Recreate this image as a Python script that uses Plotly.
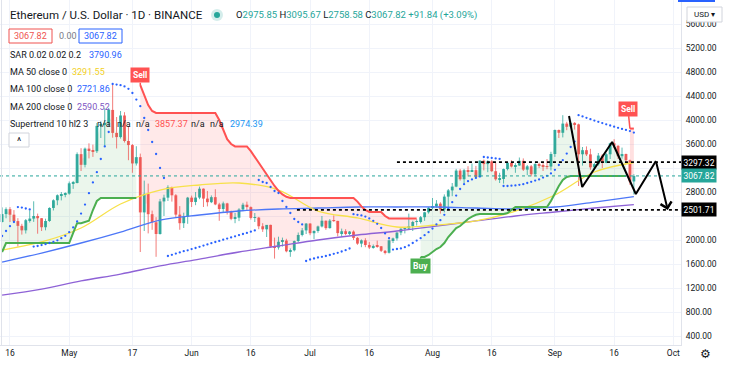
import pandas as pd
import plotly.graph_objects as go

# ---------------- data ----------------
dates = pd.date_range("2021-04-14", "2021-09-21", freq="D")

opens = [2299, 2432, 2514, 2422, 2315, 2236, 2161, 2330, 2357, 2400, 2363, 2213, 2317, 2534, 2662, 2746, 2757,
         2773, 2945, 2950, 3431, 3253, 3523, 3490, 3480, 3902, 3928, 3952, 4168, 3785, 3715, 4075, 3650, 3582, 3276,
         3381, 2460, 2770, 2430, 2295, 2100, 2643, 2706, 2880, 2745, 2423, 2280, 2388,
         2706, 2634, 2707, 2855, 2690, 2630, 2714, 2593, 2517, 2610, 2472, 2353, 2372, 2508, 2588, 2548, 2368, 2373,
         2229, 2178, 2252, 1889, 1875, 1971, 1990, 1812, 1829, 1982, 2084, 2160,
         2274, 2113, 2150, 2226, 2321, 2198, 2323, 2318, 2115, 2146, 2115, 2140, 2035, 1940, 1994, 1916, 1875, 1896,
         1895, 1820, 1787, 1995, 2027, 2124, 2187, 2190, 2230, 2300, 2300, 2380, 2462,
         2536, 2558, 2606, 2510, 2723, 2827, 2890, 3157, 3013, 3163, 3142, 3164, 3048, 3322, 3265, 3310, 3147, 3012,
         3017, 3182, 3287, 3225, 3242, 3320, 3173, 3228, 3096, 3266, 3243, 3225, 3224,
         3433, 3834, 3787, 3940, 3887, 3952, 3927, 3429, 3497, 3427, 3211, 3264, 3407, 3285, 3429, 3612, 3570, 3397,
         3433, 3329, 2975.85]
highs = [2544, 2544, 2548, 2498, 2364, 2270, 2350, 2495, 2645, 2440, 2365, 2355, 2545, 2678, 2760, 2800, 2795,
         2975, 2985, 3460, 3530, 3541, 3611, 3590, 3950, 3980, 4197, 4200, 4600, 4050, 4150, 4130, 3900, 3600, 3563,
         3440, 2990, 2940, 2490, 2380, 2685, 2755, 2912, 2890, 2765, 2565, 2455, 2718,
         2740, 2800, 2890, 2860, 2817, 2743, 2846, 2620, 2640, 2620, 2490, 2450, 2530, 2620, 2640, 2560, 2450, 2385,
         2280, 2250, 2255, 2040, 2055, 2040, 2020, 1860, 1990, 2125, 2200, 2282,
         2280, 2160, 2240, 2400, 2325, 2350, 2410, 2320, 2190, 2180, 2150, 2160, 2050, 2010, 2030, 1965, 1925, 1990,
         1900, 1832, 2010, 2040, 2130, 2195, 2200, 2440, 2320, 2345, 2400, 2470, 2550,
         2700, 2665, 2630, 2760, 2850, 2950, 3185, 3185, 3185, 3230, 3275, 3235, 3330, 3340, 3330, 3330, 3290, 3120,
         3190, 3300, 3330, 3280, 3375, 3360, 3250, 3250, 3280, 3290, 3280, 3350, 3470,
         3840, 3840, 4080, 3970, 3985, 3965, 3940, 3550, 3560, 3520, 3290, 3450, 3430, 3450, 3620, 3680, 3580, 3540,
         3440, 3340, 3095.67]
lows = [2295, 2362, 2300, 2300, 1890, 2090, 2108, 2290, 2302, 2105, 2150, 2161, 2302, 2492, 2580, 2660, 2712,
        2755, 2852, 2944, 3150, 3210, 3360, 3385, 3450, 3700, 3550, 3900, 3705, 3526, 3690, 3625, 3330, 3120, 3241,
        1800, 2150, 2110, 2170, 1720, 2090, 2400, 2650, 2640, 2380, 2171, 2200, 2270,
        2550, 2580, 2680, 2550, 2560, 2615, 2580, 2320, 2450, 2425, 2330, 2280, 2315, 2480, 2500, 2340, 2300, 2180,
        2135, 2050, 1870, 1690, 1840, 1890, 1795, 1720, 1810, 1960, 2060, 2100,
        2080, 2015, 2120, 2210, 2170, 2190, 2300, 2060, 2050, 2080, 2080, 2000, 1920, 1880, 1880, 1850, 1855, 1870,
        1800, 1760, 1775, 1950, 1990, 2080, 2110, 2180, 2150, 2240, 2275, 2320, 2440,
        2510, 2540, 2440, 2460, 2520, 2730, 2880, 2990, 2950, 3060, 3140, 3040, 3065, 3160, 3130, 3135, 2990, 2950,
        2940, 3160, 3210, 3120, 3235, 3150, 3080, 3060, 3060, 3200, 3150, 3180, 3160,
        3385, 3700, 3710, 3830, 3860, 3840, 2900, 3240, 3400, 3170, 3180, 3240, 3200, 3280, 3350, 3530, 3350, 3355,
        3285, 2920, 2758.58]
closes = [2432, 2514, 2422, 2315, 2236, 2161, 2330, 2357, 2400, 2363, 2213, 2317, 2534, 2662, 2746, 2757, 2773,
          2945, 2950, 3431, 3253, 3523, 3490, 3480, 3902, 3928, 3952, 4168, 3785, 3715, 4075, 3650, 3582, 3276, 3381,
          2460, 2770, 2430, 2295, 2100, 2643, 2706, 2880, 2745, 2423, 2280, 2388, 2706,
          2634, 2707, 2855, 2690, 2630, 2714, 2593, 2517, 2610, 2472, 2353, 2372, 2508, 2588, 2548, 2368, 2373, 2229,
          2178, 2252, 1889, 1875, 1971, 1990, 1812, 1829, 1982, 2084, 2160, 2274,
          2113, 2150, 2226, 2321, 2198, 2323, 2318, 2115, 2146, 2115, 2140, 2035, 1940, 1994, 1916, 1875, 1896, 1895,
          1820, 1787, 1995, 2027, 2124, 2187, 2190, 2230, 2300, 2300, 2380, 2462, 2536,
          2558, 2606, 2510, 2723, 2827, 2890, 3157, 3013, 3163, 3142, 3164, 3048, 3322, 3265, 3310, 3147, 3012, 3017,
          3182, 3287, 3225, 3242, 3320, 3173, 3228, 3096, 3266, 3243, 3225, 3224, 3433,
          3834, 3787, 3940, 3887, 3952, 3927, 3429, 3497, 3427, 3211, 3264, 3407, 3285, 3429, 3612, 3570, 3397, 3433,
          3329, 2975.85, 3067.82]

# Parabolic SAR (0.02, 0.02, 0.2) dots, one per day
sar = [2067, 2150, 2230, 2300,
       2548, 2540, 2525, 2510,
       1890, 1900, 1915, 1930, 1950, 1970, 1995, 2030, 2070, 2130, 2210, 2310, 2440, 2590, 2780, 2960, 3130, 3350,
       3560, 3800,
       4600, 4590, 4580, 4560, 4520, 4450, 4340, 4230, 4033, 3833, 3633, 3433, 3200, 3033,
       1733, 1753, 1773, 1793, 1813, 1828, 1848, 1867, 1887, 1907, 1927, 1947, 1967, 1985, 2005, 2023, 2043, 2062,
       2082, 2100, 2118, 2138, 2160,
       3000, 2967, 2950, 2883, 2817, 2783, 2650, 2550, 2450, 2350, 2300, 2260,
       1650, 1675, 1692, 1708, 1720, 1733, 1750, 1770, 1787, 1808, 1830, 1858,
       2430, 2420, 2410, 2390, 2360, 2320, 2270, 2200, 2110, 2030,
       1840, 1850, 1860, 1880, 1910, 1950, 1990, 2030, 2080, 2130, 2190, 2260, 2330, 2420, 2520, 2630, 2740, 2850,
       2930, 2980, 3010, 3035, 3060,
       3383, 3375, 3368, 3360, 3352,
       2900, 2900, 2905, 2910, 2920, 2930, 2950, 2970, 2990, 3010, 3040, 3070, 3110, 3170, 3250, 3330, 3440, 3550,
       3640,
       4080, 4059, 4036, 4013, 3991, 3969, 3948, 3928, 3908, 3889, 3870, 3852, 3834, 3816, 3790.96]

# Supertrend (10, hl2, 3) segments
st_up1_start, st_down1_start, st_up2_start, st_down2_start = 0, 35, 106, 159
st_up1 = [1800] + [1950] * 17 + [2120, 2280, 2280, 2300, 2320, 2500, 2650, 2700] + [2700] * 9
st_down1 = ([4580, 4400, 4250, 4150] + [4117] * 16 + [4000, 3850, 3680, 3600] + [3560] * 4 +
            [3480, 3380, 3280, 3200, 3100, 3000, 2900, 2820, 2760, 2720] + [2700] * 17 +
            [2640, 2560, 2500] + [2467] * 4 + [2400] + [2360] * 8)
st_up2 = ([1717, 1717, 1750, 1800, 1850, 1883, 1950, 2050, 2133, 2200, 2233, 2300, 2350, 2390, 2420] +
          [2433] * 7 + [2450, 2500] + [2550] * 9 + [2650, 2780, 2900, 3000, 3050] + [3067] * 15)
st_down2 = [3857.37, 3857.37]

# Moving averages
ma_dates = ["2021-04-14", "2021-04-24", "2021-05-04", "2021-05-14", "2021-05-24", "2021-06-03", "2021-06-13",
            "2021-06-23", "2021-07-03", "2021-07-13", "2021-07-23", "2021-08-02", "2021-08-12", "2021-08-22",
            "2021-09-01", "2021-09-11", "2021-09-21"]
ma50 = [1833, 1967, 2200, 2600, 2833, 2917, 2950, 2833, 2483, 2367, 2217, 2250, 2317, 2483, 2750, 3133, 3291.55]
ma100 = [1633, 1783, 1950, 2133, 2333, 2417, 2483, 2517, 2533, 2550, 2550, 2550, 2533, 2517, 2550, 2633, 2721.86]
ma200 = [1083, 1183, 1317, 1433, 1567, 1683, 1800, 1900, 2000, 2083, 2150, 2233, 2317, 2400, 2467, 2533, 2590.52]

# drawn levels and pattern
level_hi, level_hi_from = 3297.32, "2021-07-23"
level_lo, level_lo_from = 2501.71, "2021-06-27 16:00"
last_price = 3067.82
pattern_dates = ["2021-09-04 14:00", "2021-09-07 22:00", "2021-09-15 12:00", "2021-09-21 12:00",
                 "2021-09-26 14:00", "2021-09-29 14:00"]
pattern_prices = [4067, 2883, 3633, 2767, 3317, 2500]

x_ticks = ["2021-04-16", "2021-05-01", "2021-05-17", "2021-06-01", "2021-06-16", "2021-07-01", "2021-07-16",
           "2021-08-01", "2021-08-16", "2021-09-01", "2021-09-16", "2021-10-01"]
x_ticktext = ["16", "May", "17", "Jun", "16", "Jul", "16", "Aug", "16", "Sep", "16", "Oct"]
y_ticks = list(range(400, 5601, 400))
y_hidden_ticks = [2400, 3200]  # covered by the price-axis labels in the original

# ---------------- style ----------------
UP, DOWN = "#26a69a", "#ef5350"
X_RANGE = ["2021-04-13 11:17", "2021-10-02 22:30"]
Y_RANGE = [250, 6000]
PW, PH = 681, 345
FONT = "Roboto"
TXT = "#131722"


def pxx(x):
    return x / PW


def pyy(y):
    return 1 - y / PH


fig = go.Figure()

# supertrend fills (body middle -> supertrend)
body_mid = [(o + c) / 2 for o, c in zip(opens, closes)]
segments = [(st_up1_start, st_up1, "#4caf50", "rgba(76,175,80,0.11)"),
            (st_down1_start, st_down1, "#ff5252", "rgba(255,82,82,0.13)"),
            (st_up2_start, st_up2, "#4caf50", "rgba(76,175,80,0.11)"),
            (st_down2_start, st_down2, "#ff5252", "rgba(255,82,82,0.18)")]
for start, vals, col, fcol in segments:
    seg_x = dates[start:start + len(vals)]
    fig.add_trace(go.Scatter(x=seg_x, y=body_mid[start:start + len(vals)], mode="lines",
                             line=dict(width=0, color="rgba(0,0,0,0)"), hoverinfo="skip"))
    fig.add_trace(go.Scatter(x=seg_x, y=vals, mode="lines", fill="tonexty", fillcolor=fcol,
                             line=dict(width=0, color="rgba(0,0,0,0)"), hoverinfo="skip"))

# candle bodies
body_col = [UP if c >= o else DOWN for o, c in zip(opens, closes)]
fig.add_trace(go.Bar(x=dates, y=[max(abs(c - o), 6) for o, c in zip(opens, closes)],
                     base=[min(o, c) for o, c in zip(opens, closes)],
                     width=0.72 * 86400000, marker=dict(color=body_col, line=dict(width=0)),
                     opacity=0.9, hoverinfo="skip"))

# wicks
for col in (UP, DOWN):
    wx, wy = [], []
    for d, o, h, l, c in zip(dates, opens, highs, lows, closes):
        if (c >= o) == (col == UP):
            wx += [d, d, None]
            wy += [l, h, None]
    fig.add_trace(go.Scatter(x=wx, y=wy, mode="lines", line=dict(color=col, width=1), opacity=0.75,
                             hoverinfo="skip"))

# moving averages
fig.add_trace(go.Scatter(x=ma_dates, y=ma200, mode="lines", line=dict(color="#8e62d6", width=1.3, shape="spline"),
                         hoverinfo="skip"))
fig.add_trace(go.Scatter(x=ma_dates, y=ma100, mode="lines", line=dict(color="#4d77f7", width=1.3, shape="spline"),
                         hoverinfo="skip"))
fig.add_trace(go.Scatter(x=ma_dates, y=ma50, mode="lines", line=dict(color="#f7e14a", width=1.3, shape="spline"),
                         hoverinfo="skip"))

# supertrend lines
for start, vals, col, fcol in segments:
    fig.add_trace(go.Scatter(x=dates[start:start + len(vals)], y=vals, mode="lines",
                             line=dict(color=col, width=2), hoverinfo="skip"))

# SAR dots
fig.add_trace(go.Scatter(x=dates, y=sar, mode="markers", marker=dict(color="#2962ff", size=2.3),
                         hoverinfo="skip"))

# level lines
fig.add_trace(go.Scatter(x=[X_RANGE[0], X_RANGE[1]], y=[last_price, last_price], mode="lines",
                         line=dict(color=UP, width=1, dash="dot"), hoverinfo="skip"))
fig.add_trace(go.Scatter(x=[level_hi_from, X_RANGE[1]], y=[level_hi, level_hi], mode="lines",
                         line=dict(color="#000000", width=1.6, dash="dot"), hoverinfo="skip"))
fig.add_trace(go.Scatter(x=[level_lo_from, X_RANGE[1]], y=[level_lo, level_lo], mode="lines",
                         line=dict(color="#000000", width=1.6, dash="dot"), hoverinfo="skip"))

# zigzag pattern
fig.add_trace(go.Scatter(x=pattern_dates[:5], y=pattern_prices[:5], mode="lines",
                         line=dict(color="#000000", width=2), hoverinfo="skip"))

ann = []
shapes = []


def text(x, y, s, color=TXT, size=9, anchor="left", family=FONT, **kw):
    ann.append(dict(x=pxx(x), y=pyy(y), xref="paper", yref="paper", text=s, showarrow=False,
                    xanchor=anchor, yanchor="middle", font=dict(family=family, size=size, color=color), **kw))


def rect(x0, y0, x1, y1, line="#e0e3eb", fill="white", width=1):
    shapes.append(dict(type="rect", xref="paper", yref="paper", x0=pxx(x0), x1=pxx(x1), y0=pyy(y1), y1=pyy(y0),
                       line=dict(color=line, width=width), fillcolor=fill, layer="above"))


# pattern arrow head
ann.append(dict(x=pattern_dates[5], y=pattern_prices[5], ax=pattern_dates[4], ay=pattern_prices[4],
                xref="x", yref="y", axref="x", ayref="y", text="", showarrow=True, arrowhead=4,
                arrowsize=1.1, arrowwidth=2, arrowcolor="#000000"))

# signals
for d, p, label, col, ax, ay in [("2021-05-19", st_down1[0], "Sell", "#ff5252", 0, -10),
                                 ("2021-09-20", st_down2[0], "Sell", "#ff5252", -2, -20),
                                 ("2021-07-29", st_up2[0], "Buy", "#4caf50", 0, 9)]:
    ann.append(dict(x=d, y=p, xref="x", yref="y", text="<b>%s</b>" % label, showarrow=True, arrowhead=0,
                    arrowwidth=1.5, arrowcolor=col, ax=ax, ay=ay, bgcolor=col, borderpad=2,
                    font=dict(family=FONT, size=8.5, color="white")))

# price axis labels
for p, bg in [(level_hi, "#000000"), (last_price, UP), (level_lo, "#000000")]:
    ann.append(dict(x=1.0, y=p, xref="paper", yref="y", text="%.2f" % p, showarrow=False, xanchor="left",
                    yanchor="middle", bgcolor=bg, borderpad=1.5, font=dict(family=FONT, size=8.5, color="white")))

# header / legend
text(8, 15, "Ethereum / U.S. Dollar · 1D · BINANCE", size=11.5)
shapes.append(dict(type="circle", xref="paper", yref="paper", x0=pxx(211), x1=pxx(223), y0=pyy(21), y1=pyy(9),
                   line=dict(width=0), fillcolor="rgba(38,166,154,0.2)"))
shapes.append(dict(type="circle", xref="paper", yref="paper", x0=pxx(214), x1=pxx(220), y0=pyy(18), y1=pyy(12),
                   line=dict(width=0), fillcolor=UP))
g = "<span style='color:%s'>%%s</span>" % UP
ohlc = ("O" + g % "2975.85" + " H" + g % "3095.67" + " L" + g % "2758.58" + " C" + g % "3067.82" + " " +
        g % "+91.84 (+3.09%)")
text(234, 15, ohlc, size=9.5)

rect(9, 29, 52, 43, line=DOWN)
text(30.5, 36, "3067.82", color=DOWN, size=9, anchor="center")
text(57, 36, "0.00", color="#787b86", size=9)
rect(79, 29, 122, 43, line="#2962ff")
text(100.5, 36, "3067.82", color="#2962ff", size=9, anchor="center")

text(8, 55, "SAR 0.02 0.02 0.2", size=9)
text(87, 55, "3790.96", color="#2962ff", size=9)
text(8, 72, "MA 50 close 0", size=9)
text(70, 72, "3291.55", color="#f2cf1d", size=9)
text(8, 89, "MA 100 close 0", size=9)
text(75, 89, "2721.86", color="#2962ff", size=9)
text(8, 107, "MA 200 close 0", size=9)
text(75, 107, "2590.52", color="#7e57c2", size=9)
text(8, 124, "Supertrend 10 hl2 3", size=9)
for xx in (95, 115, 134, 189, 208):
    text(xx, 124, "n/a", size=9)
text(153, 124, "3857.37", color="#ff5252", size=9)
text(228, 124, "2974.39", color="#2196f3", size=9)
rect(9, 133, 29, 147, line="#d1d4dc")
text(19, 141, "^", size=10, anchor="center")

# right-side chrome
rect(687, 7, 722, 22, line="#d1d4dc")
text(704.5, 14.5, "USD ▾", size=8, anchor="center")
shapes.append(dict(type="rect", xref="paper", yref="paper", x0=pxx(678), x1=pxx(715), y0=pyy(2), y1=pyy(0),
                   line=dict(width=0), fillcolor="#2962ff"))
text(705, 354, "⚙", size=12, anchor="center", family="DejaVu Sans")
shapes.append(dict(type="line", xref="paper", yref="paper", x0=pxx(1.5), x1=pxx(1.5), y0=0, y1=1,
                   line=dict(color="#e0e3eb", width=1)))

y_ticktext = ["" if v in y_hidden_ticks else "%.2f" % v for v in y_ticks]

fig.update_layout(
    width=734, height=369, margin=dict(l=0, r=53, t=0, b=24),
    paper_bgcolor="white", plot_bgcolor="white", showlegend=False, hovermode=False,
    font=dict(family=FONT, size=9, color=TXT), barmode="overlay",
    annotations=ann, shapes=shapes,
    xaxis=dict(type="date", range=X_RANGE, tickvals=x_ticks, ticktext=x_ticktext, showgrid=True,
               gridcolor="#f0f3fa", ticks="", tickfont=dict(size=8.5, color=TXT), showline=True,
               linecolor="#e0e3eb", zeroline=False, fixedrange=True),
    yaxis=dict(side="right", range=Y_RANGE, tickvals=y_ticks, ticktext=y_ticktext, showgrid=True,
               gridcolor="#f0f3fa", ticks="", ticklabelstandoff=2, tickfont=dict(size=8.5, color=TXT),
               showline=True, linecolor="#e0e3eb", zeroline=False, fixedrange=True),
)

fig.write_html("out.html", config={"displayModeBar": False},
               post_script="document.body.style.margin='0px';document.body.style.overflow='hidden';")
